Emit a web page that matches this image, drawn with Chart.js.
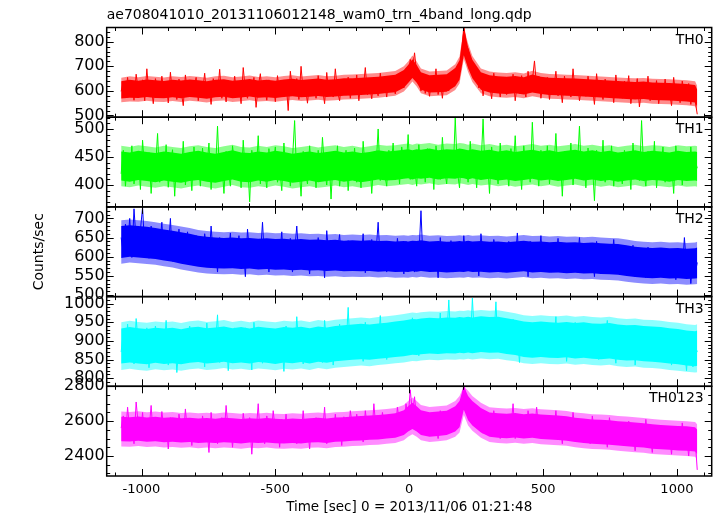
<!DOCTYPE html>
<html><head><meta charset="utf-8">
<script src="https://cdn.jsdelivr.net/npm/chart.js@4/dist/chart.umd.min.js"></script>
<style>html,body{margin:0;padding:0;background:#fff;}#wrap{width:717px;height:516px;}</style>
</head><body><div id="wrap"><canvas id="c" width="717" height="516"></canvas></div>
<script>
const chartTitle = 'ae708041010_20131106012148_wam0_trn_4band_long.qdp';
const xTitle = 'Time [sec] 0 = 2013/11/06 01:21:48';
const yTitle = 'Counts/sec';
const panelNames = ['TH0', 'TH1', 'TH2', 'TH3', 'TH0123'];
const xTickValues = [-1000, -500, 0, 500, 1000];
const yTicksTH0 = [500, 600, 700, 800];
const yTicksTH1 = [400, 450, 500];
const yTicksTH2 = [500, 550, 600, 650, 700];
const yTicksTH3 = [800, 850, 900, 950, 1000];
const yTicksTH0123 = [2400, 2600, 2800];

// light-curve bins (s)
const times = [
-1076,-1068,-1060,-1052,-1044,-1036,-1028,-1020,-1012,-1004,-996,-988,-980,-972,-964,-956,-948,-940,
-932,-924,-916,-908,-900,-892,-884,-876,-868,-860,-852,-844,-836,-828,-820,-812,-804,-796,
-788,-780,-772,-764,-756,-748,-740,-732,-724,-716,-708,-700,-692,-684,-676,-668,-660,-652,
-644,-636,-628,-620,-612,-604,-596,-588,-580,-572,-564,-556,-548,-540,-532,-524,-516,-508,
-500,-492,-484,-476,-468,-460,-452,-444,-436,-428,-420,-412,-404,-396,-388,-380,-372,-364,
-356,-348,-340,-332,-324,-316,-308,-300,-292,-284,-276,-268,-260,-252,-244,-236,-228,-220,
-212,-204,-196,-188,-180,-172,-164,-156,-148,-140,-132,-124,-116,-108,-100,-92,-84,-76,
-68,-60,-52,-44,-36,-28,-20,-12,-4,4,12,20,28,36,44,52,60,68,
76,84,92,100,108,116,124,132,140,148,156,164,172,180,188,196,204,212,
220,228,236,244,252,260,268,276,284,292,300,308,316,324,332,340,348,356,
364,372,380,388,396,404,412,420,428,436,444,452,460,468,476,484,492,500,
508,516,524,532,540,548,556,564,572,580,588,596,604,612,620,628,636,644,
652,660,668,676,684,692,700,708,716,724,732,740,748,756,764,772,780,788,
796,804,812,820,828,836,844,852,860,868,876,884,892,900,908,916,924,932,
940,948,956,964,972,980,988,996,1004,1012,1020,1028,1036,1044,1052,1060,1068,1076
];

const th0 = [
598,640,575,655,590,630,562,668,601,579,645,560,690,585,625,548,650,610,
572,660,595,633,551,676,588,620,565,648,602,540,665,590,637,578,612,655,
560,630,598,672,575,615,545,650,603,582,688,570,628,555,642,596,575,660,
585,622,548,695,600,570,640,592,655,533,618,670,580,610,562,645,598,630,
556,662,590,625,575,640,520,680,605,585,650,565,700,592,620,550,636,600,
640,570,662,595,612,548,675,588,630,575,690,600,560,645,618,583,656,570,
628,590,665,560,640,602,695,585,625,568,650,610,580,672,600,638,575,660,
605,650,588,668,620,645,612,690,665,728,690,755,668,640,600,655,590,632,
578,650,605,690,585,640,570,660,615,600,672,630,690,655,712,735,870,790,
770,720,700,655,690,612,660,580,645,600,630,568,672,598,640,575,655,610,
585,648,600,668,560,635,590,662,612,575,680,605,640,722,615,660,570,630,
595,655,565,640,608,680,580,625,552,660,600,628,575,690,590,645,560,615,
640,578,660,595,620,545,670,588,612,565,648,600,580,635,552,665,590,618,
570,640,585,662,548,615,590,650,535,605,628,575,660,560,620,585,642,548,
615,570,648,582,600,540,655,575,620,552,640,590,565,630,545,612,560,505
];

const th1 = [
420,462,398,447,415,470,402,438,455,392,480,425,410,458,385,445,428,492,
405,450,418,472,396,440,463,380,455,425,412,478,400,437,452,390,468,420,
445,398,466,415,430,475,392,450,420,505,410,442,385,460,428,398,470,436,
412,458,395,480,420,446,370,462,430,410,488,402,450,425,395,465,418,440,
468,405,432,390,475,420,452,398,445,515,412,438,380,460,425,402,470,418,
440,395,462,410,485,428,400,455,375,448,420,470,398,436,412,462,390,450,
420,466,405,440,395,478,425,412,458,385,445,430,500,408,450,420,398,462,
430,475,412,448,402,468,438,420,490,410,455,430,398,472,425,448,405,465,
418,455,392,470,435,410,485,428,402,458,440,415,520,425,395,462,432,448,
405,478,420,445,395,460,430,518,412,450,385,468,426,440,402,475,418,452,
436,398,465,420,488,410,445,392,470,428,455,405,512,422,440,398,462,430,
415,470,402,448,425,492,408,455,380,460,432,418,475,400,445,428,505,412,
450,395,466,420,440,372,462,430,412,480,405,445,425,470,398,455,418,438,
402,462,428,450,392,475,418,440,408,515,425,398,460,432,410,478,395,445,
430,468,405,452,418,440,385,470,422,458,400,445,432,412,468,420,445,430
];

const th2 = [
650,610,685,628,700,598,725,640,612,670,728,620,655,596,680,632,605,662,
628,690,600,650,615,700,588,645,625,672,595,638,610,665,580,640,618,655,
598,645,575,660,612,590,680,600,630,560,650,615,585,640,605,662,575,625,
600,655,582,628,548,672,605,590,640,572,618,598,690,585,625,560,645,610,
585,635,600,665,570,622,590,648,560,612,680,592,630,575,640,605,555,628,
610,575,650,592,620,545,668,600,585,635,570,612,658,580,625,595,642,565,
605,640,578,622,595,660,558,615,590,645,572,610,690,585,628,600,560,638,
592,625,570,648,600,612,555,640,605,585,635,560,618,598,720,580,625,602,
570,632,595,612,545,650,588,620,600,575,642,560,615,598,628,580,655,590,
610,568,638,595,622,550,660,600,582,630,595,565,645,605,588,625,560,612,
598,640,572,615,590,662,565,610,585,628,548,640,600,580,622,595,655,575,
605,580,630,560,618,595,648,575,612,590,560,635,600,572,625,588,650,578,
602,565,632,590,615,548,640,595,578,625,600,560,620,585,645,570,608,592,
575,615,560,600,588,630,548,595,570,610,580,545,625,575,598,560,612,582,
565,605,580,548,620,572,595,540,610,585,560,650,575,598,530,590,555,585
];

const th3 = [
870,925,855,945,880,905,838,960,892,850,915,870,935,828,900,868,940,885,
850,912,875,955,835,895,870,928,815,890,925,860,905,845,940,878,900,852,
920,865,895,830,948,880,912,858,890,970,842,905,875,925,820,898,862,935,
878,915,848,890,935,860,905,822,950,885,868,915,840,898,930,855,888,910,
845,925,872,900,818,940,880,862,915,850,965,878,892,838,920,870,905,848,
885,932,860,910,842,955,890,868,925,835,900,878,945,858,912,880,990,865,
900,855,935,882,915,845,950,890,870,925,860,905,880,968,872,918,850,900,
935,870,912,888,950,865,920,895,940,878,962,900,915,860,945,890,925,872,
918,950,880,935,898,975,872,925,905,1010,888,930,868,945,912,885,955,900,
930,878,1015,905,945,870,925,890,960,915,880,940,898,1005,875,928,905,952,
885,935,900,958,870,915,842,940,895,910,868,928,885,905,950,875,918,860,
905,940,872,920,890,965,862,910,885,932,845,915,898,870,950,880,912,865,
925,880,948,862,905,890,938,850,915,878,902,955,868,920,885,840,910,895,
870,925,852,900,880,940,835,895,915,860,905,872,930,848,890,868,918,855,
895,850,910,870,925,835,885,900,842,915,865,880,820,905,858,830,890,870
];

const th0123 = [
2560,2630,2505,2680,2540,2600,2470,2710,2575,2520,2650,2490,2615,2545,2690,2500,2580,2620,
2510,2655,2550,2600,2440,2620,2530,2580,2480,2640,2555,2500,2670,2530,2595,2460,2610,2545,
2590,2490,2630,2545,2580,2420,2650,2520,2600,2470,2560,2620,2500,2690,2540,2585,2450,2610,
2530,2600,2480,2645,2555,2510,2620,2410,2580,2530,2700,2500,2595,2470,2630,2545,2510,2660,
2540,2585,2450,2610,2520,2640,2490,2565,2530,2610,2470,2590,2520,2660,2500,2575,2440,2600,
2550,2620,2490,2580,2530,2680,2470,2600,2545,2505,2640,2520,2590,2460,2625,2550,2510,2660,
2570,2520,2640,2545,2600,2480,2660,2560,2590,2500,2700,2550,2615,2530,2650,2575,2520,2630,
2560,2640,2530,2680,2590,2610,2550,2700,2620,2780,2640,2740,2600,2650,2560,2620,2540,2610,
2520,2640,2565,2600,2500,2660,2545,2610,2580,2540,2650,2600,2680,2620,2700,2720,2810,2740,
2710,2680,2640,2600,2690,2560,2620,2530,2650,2580,2600,2510,2660,2555,2610,2500,2640,2580,
2545,2610,2560,2700,2500,2590,2540,2640,2580,2530,2660,2570,2600,2520,2680,2550,2590,2510,
2570,2620,2505,2600,2540,2660,2520,2580,2470,2610,2550,2590,2510,2650,2540,2600,2480,2570,
2610,2520,2580,2470,2630,2540,2575,2490,2600,2515,2560,2450,2620,2530,2545,2480,2590,2520,
2500,2570,2460,2600,2520,2540,2430,2580,2500,2550,2470,2610,2490,2530,2420,2560,2510,2475,
2540,2460,2570,2500,2520,2410,2560,2480,2530,2440,2590,2490,2510,2400,2550,2470,2500,2320
];

// envelope of each band, sampled at coreTimes:
// "core" = where the 1 s light curve fills the plot solidly, "halo" = the lighter fringe around it
const coreTimes = [
-1076,-1044,-1012,-980,-948,-916,-884,-852,-820,-788,-756,-724,-692,-660,-628,-596,-564,-532,
-500,-468,-436,-404,-372,-340,-308,-276,-244,-212,-180,-148,-116,-84,-52,-20,
-4,12,28,44,76,108,140,172,188,204,220,236,
268,300,332,364,396,428,460,492,524,556,588,620,652,684,716,748,780,812,844,876,908,940,972,1004,1036,1068,1076
];
const th0CoreLo = [569,572,571,575,571,570,574,570,575,572,568,574,576,570,573,577,572,574,
571,575,578,574,576,579,575,577,580,581,583,585,587,591,595,613,
632,653,633,605,593,595,597,619,645,745,692,651,
605,593,589,587,590,585,593,587,583,582,580,579,577,575,573,571,569,567,565,567,563,562,561,559,557,553,535];
const th0CoreHi = [639,645,641,646,643,640,645,642,646,643,639,645,647,641,644,648,642,645,
641,646,649,644,647,650,645,647,651,652,654,656,658,662,666,685,
705,729,705,676,664,666,668,693,725,858,778,727,
676,664,660,658,661,656,667,658,654,653,651,650,648,646,644,642,640,638,636,638,634,633,632,630,628,624,605];
const th0HaloLo = [554,557,556,560,556,555,559,555,560,557,553,559,561,555,558,562,557,559,
556,560,563,559,561,564,560,562,565,566,568,570,572,576,580,598,
617,638,618,590,578,580,582,604,630,730,677,636,
590,578,574,572,575,570,578,572,568,567,565,564,562,560,558,556,554,552,550,552,548,547,546,544,542,538,520];
const th0HaloHi = [654,660,656,661,658,655,660,657,661,658,654,660,662,656,659,663,657,660,
656,661,664,659,662,665,660,662,666,667,669,671,673,677,681,700,
720,744,720,691,679,681,683,708,740,858,793,742,
691,679,675,673,676,671,682,673,669,668,666,665,663,661,659,657,655,653,651,653,649,648,647,645,643,639,620];

const th1CoreLo = [408,406,409,407,405,408,406,404,407,409,406,404,407,410,406,405,408,406,
409,407,404,406,408,405,407,409,406,408,405,407,410,408,409,411,
412,410,412,411,413,410,412,411,413,412,410,412,
409,411,408,410,407,409,411,408,410,407,409,411,408,410,407,409,406,408,410,407,409,408,406,409,407,408,407];
const th1CoreHi = [460,458,461,459,457,460,458,456,459,461,458,456,459,462,458,457,460,458,
461,459,456,458,460,457,459,461,458,460,457,459,462,460,461,463,
464,462,464,463,465,462,464,463,465,464,462,464,
461,463,460,462,459,461,463,460,462,459,461,463,460,462,459,461,458,460,462,459,461,460,458,461,459,460,459];
const th1HaloLo = [398,396,399,397,395,398,396,394,397,399,396,394,397,400,396,395,398,396,
399,397,394,396,398,395,397,399,396,398,395,397,400,398,399,401,
402,400,402,401,403,400,402,401,403,402,400,402,
399,401,398,400,397,399,401,398,400,397,399,401,398,400,397,399,396,398,400,397,399,398,396,399,397,398,397];
const th1HaloHi = [470,468,471,469,467,470,468,466,469,471,468,466,469,472,468,467,470,468,
471,469,466,468,470,467,469,471,468,470,467,469,472,470,471,473,
474,472,474,473,475,472,474,473,475,474,472,474,
471,473,470,472,469,471,473,470,472,469,471,473,470,472,469,471,468,470,472,469,471,470,468,471,469,470,469];

const th2CoreLo = [597,600,598,596,594,590,587,582,578,574,571,570,569,570,568,569,567,568,
566,567,565,566,564,565,563,564,562,563,562,563,561,562,560,561,
560,562,561,563,560,561,559,560,561,560,562,560,
561,559,560,558,560,562,559,560,558,559,557,558,556,557,555,554,553,550,547,545,544,545,543,544,542,543,544];
const th2CoreHi = [680,682,680,678,675,671,668,664,660,655,652,650,649,650,648,649,647,648,
646,647,645,646,644,645,643,644,642,643,642,643,641,642,640,641,
640,642,641,643,640,641,639,640,641,640,642,640,
641,639,640,638,640,642,639,640,638,639,637,638,636,637,635,634,633,630,626,624,623,624,622,623,621,622,624];
const th2HaloLo = [582,585,583,581,579,575,572,567,563,559,556,555,554,555,553,554,552,553,
551,552,550,551,549,550,548,549,547,548,547,548,546,547,545,546,
545,547,546,548,545,546,544,545,546,545,547,545,
546,544,545,543,545,547,544,545,543,544,542,543,541,542,540,539,538,535,532,530,529,530,528,529,527,528,529];
const th2HaloHi = [695,697,695,693,690,686,683,679,675,670,667,665,664,665,663,664,662,663,
661,662,660,661,659,660,658,659,657,658,657,658,656,657,655,656,
655,657,656,658,655,656,654,655,656,655,657,655,
656,654,655,653,655,657,654,655,653,654,652,653,651,652,650,649,648,645,641,639,638,639,637,638,636,637,639];

const th3CoreLo = [839,842,839,837,841,838,840,837,841,843,839,841,844,840,842,839,843,841,
838,842,840,843,839,844,841,845,847,849,851,849,852,854,857,859,
861,863,862,864,866,865,867,866,868,867,869,867,
870,868,869,865,862,857,855,857,855,854,856,853,855,852,851,853,849,847,848,845,844,842,839,837,834,832,833];
const th3CoreHi = [933,937,934,932,935,933,935,931,936,938,934,936,939,934,937,933,938,935,
933,937,935,938,934,939,936,940,942,944,946,944,947,949,952,955,
957,959,958,960,962,961,963,962,964,963,965,963,
966,964,965,961,957,952,950,952,950,949,951,948,950,947,946,948,944,942,943,940,939,937,934,932,928,926,928];
const th3HaloLo = [822,825,822,820,824,821,823,820,824,826,822,824,827,823,825,822,826,824,
821,825,823,826,822,827,824,828,830,832,834,832,835,837,840,842,
844,846,845,847,849,848,850,849,851,850,852,850,
853,851,852,848,845,840,838,840,838,837,839,836,838,835,834,836,832,830,831,828,827,825,822,820,817,815,816];
const th3HaloHi = [950,954,951,949,952,950,952,948,953,955,951,953,956,951,954,950,955,952,
950,954,952,955,951,956,953,957,959,961,963,961,964,966,969,972,
974,976,975,977,979,978,980,979,981,980,982,980,
983,981,982,978,974,969,967,969,967,966,968,965,967,964,963,965,961,959,960,957,956,954,951,949,945,943,945];

const th0123CoreLo = [2485,2483,2487,2481,2485,2479,2482,2477,2480,2475,2478,2474,2479,2476,2472,2477,2474,2478,
2473,2471,2475,2472,2477,2479,2475,2481,2483,2487,2489,2493,2495,2500,2505,2520,
2540,2555,2540,2520,2510,2515,2520,2540,2565,2665,2605,2575,
2535,2510,2505,2502,2506,2500,2504,2498,2495,2492,2488,2480,2475,2470,2468,2465,2460,2456,2452,2448,2442,2438,2435,2432,2430,2425,2410];
const th0123CoreHi = [2625,2623,2627,2621,2625,2619,2622,2617,2620,2615,2618,2614,2619,2616,2612,2617,2614,2618,
2613,2611,2615,2612,2617,2619,2615,2621,2623,2627,2629,2633,2635,2640,2645,2663,
2685,2705,2685,2663,2651,2655,2660,2685,2715,2800,2745,2715,
2675,2650,2645,2642,2646,2640,2644,2638,2635,2632,2628,2620,2615,2610,2608,2605,2600,2596,2592,2588,2582,2578,2575,2572,2570,2565,2550];
const th0123HaloLo = [2455,2453,2457,2451,2455,2449,2452,2447,2450,2445,2448,2444,2449,2446,2442,2447,2444,2448,
2443,2441,2445,2442,2447,2449,2445,2451,2453,2457,2459,2463,2465,2470,2475,2490,
2510,2525,2510,2490,2480,2485,2490,2510,2535,2635,2575,2545,
2505,2480,2475,2472,2476,2470,2474,2468,2465,2462,2458,2450,2445,2440,2438,2435,2430,2426,2422,2418,2412,2408,2405,2402,2400,2395,2380];
const th0123HaloHi = [2655,2653,2657,2651,2655,2649,2652,2647,2650,2645,2648,2644,2649,2646,2642,2647,2644,2648,
2643,2641,2645,2642,2647,2649,2645,2651,2653,2657,2659,2663,2665,2670,2675,2693,
2715,2735,2715,2693,2681,2685,2690,2715,2745,2800,2775,2745,
2705,2680,2675,2672,2676,2670,2674,2668,2665,2662,2658,2650,2645,2640,2638,2635,2630,2626,2622,2618,2612,2608,2605,2602,2600,2595,2580];

const panels = [
  {name: panelNames[0], data: th0, lo: th0CoreLo, hi: th0CoreHi, hlo: th0HaloLo, hhi: th0HaloHi, color: '#ff0000', halo: 'rgba(255,0,0,0.45)', min: 493, max: 858, ticks: yTicksTH0, major: 100, minor: 20},
  {name: panelNames[1], data: th1, lo: th1CoreLo, hi: th1CoreHi, hlo: th1HaloLo, hhi: th1HaloHi, color: '#00ff00', halo: 'rgba(0,255,0,0.45)', min: 361, max: 521, ticks: yTicksTH1, major: 50, minor: 10},
  {name: panelNames[2], data: th2, lo: th2CoreLo, hi: th2CoreHi, hlo: th2HaloLo, hhi: th2HaloHi, color: '#0000ff', halo: 'rgba(0,0,255,0.45)', min: 496, max: 730, ticks: yTicksTH2, major: 50, minor: 10},
  {name: panelNames[3], data: th3, lo: th3CoreLo, hi: th3CoreHi, hlo: th3HaloLo, hhi: th3HaloHi, color: '#00ffff', halo: 'rgba(0,255,255,0.45)', min: 778, max: 1019, ticks: yTicksTH3, major: 50, minor: 10},
  {name: panelNames[4], data: th0123, lo: th0123CoreLo, hi: th0123CoreHi, hlo: th0123HaloLo, hhi: th0123HaloHi, color: '#ff00ff', halo: 'rgba(255,0,255,0.45)', min: 2285, max: 2800, ticks: yTicksTH0123, major: 200, minor: 50}
];

const FONT = 'DejaVu Sans';
const AXIS_W = 106.7;

const scales = {
  x: {
    type: 'linear', position: 'bottom', min: -1130, max: 1130,
    grid: {display: false, drawTicks: false}, border: {display: false},
    ticks: {font: {family: FONT, size: 13}, color: '#000', padding: 6, maxRotation: 0, autoSkip: false,
      callback: v => String(v)},
    afterBuildTicks: s => { s.ticks = xTickValues.map(v => ({value: v})); },
    afterFit: s => { s.height = 40; },
    title: {display: true, text: xTitle, font: {family: FONT, size: 13.5}, color: '#000', padding: {top: 0, bottom: 0.5}}
  }
};
for (let i = panels.length - 1; i >= 0; i--) {
  const p = panels[i];
  scales['y' + i] = {
    type: 'linear', position: 'left', stack: 'panels', stackWeight: 1,
    min: p.min, max: p.max,
    grid: {display: false, drawTicks: false}, border: {display: false},
    ticks: {font: {family: FONT, size: 16}, color: '#000', padding: 2, autoSkip: false,
      callback: v => String(v)},
    afterBuildTicks: s => { s.ticks = p.ticks.map(v => ({value: v})); },
    afterFit: s => { s.width = AXIS_W; },
    title: i === 2
      ? {display: true, text: yTitle, font: {family: FONT, size: 14}, color: '#000', padding: {top: 31, bottom: 0}}
      : {display: false}
  };
}

const NONE = 'rgba(0,0,0,0)';
const datasets = [];
panels.forEach((p, i) => {
  const env = (arr) => coreTimes.map((t, k) => ({x: t, y: arr[k]}));
  datasets.push({label: p.name, data: times.map((t, k) => ({x: t, y: p.data[k]})),
    yAxisID: 'y' + i, order: 0, borderColor: p.color, borderWidth: 1, pointRadius: 0, tension: 0, fill: false});
  datasets.push({label: p.name + ' core low', data: env(p.lo),
    yAxisID: 'y' + i, order: 1, borderColor: NONE, borderWidth: 1, pointRadius: 0, tension: 0, fill: false});
  datasets.push({label: p.name + ' core high', data: env(p.hi),
    yAxisID: 'y' + i, order: 1, borderColor: NONE, borderWidth: 1, pointRadius: 0, tension: 0, fill: '-1', backgroundColor: p.color});
  datasets.push({label: p.name + ' halo low', data: env(p.hlo),
    yAxisID: 'y' + i, order: 2, borderColor: NONE, borderWidth: 1, pointRadius: 0, tension: 0, fill: false});
  datasets.push({label: p.name + ' halo high', data: env(p.hhi),
    yAxisID: 'y' + i, order: 2, borderColor: NONE, borderWidth: 1, pointRadius: 0, tension: 0, fill: '-1', backgroundColor: p.halo});
});

const panelClip = {
  id: 'panelClip',
  beforeDatasetDraw(chart, args) {
    const ds = chart.data.datasets[args.index];
    const ys = chart.scales[ds.yAxisID];
    const ca = chart.chartArea;
    const ctx = chart.ctx;
    ctx.save();
    ctx.beginPath();
    ctx.rect(ca.left, ys.top, ca.right - ca.left, ys.bottom - ys.top);
    ctx.clip();
  },
  afterDatasetDraw(chart) { chart.ctx.restore(); }
};

const qdpFrame = {
  id: 'qdpFrame',
  afterDraw(chart) {
    const ctx = chart.ctx;
    const ca = chart.chartArea;
    const xs = chart.scales.x;
    ctx.save();
    ctx.strokeStyle = '#000';
    panels.forEach((p, i) => {
      const ys = chart.scales['y' + i];
      const top = ys.top, bot = ys.bottom;
      ctx.lineWidth = 1;
      ctx.beginPath();
      const start = Math.ceil(p.min / p.minor) * p.minor;
      for (let v = start; v <= p.max; v += p.minor) {
        const y = Math.round(ys.getPixelForValue(v)) + 0.5;
        const len = (v % p.major === 0) ? 7 : 3.5;
        ctx.moveTo(ca.left, y); ctx.lineTo(ca.left + len, y);
        ctx.moveTo(ca.right, y); ctx.lineTo(ca.right - len, y);
      }
      for (let v = -1100; v <= 1100; v += 100) {
        const x = Math.round(xs.getPixelForValue(v)) + 0.5;
        const len = (v % 500 === 0) ? 7 : 3.5;
        ctx.moveTo(x, top); ctx.lineTo(x, top + len);
        ctx.moveTo(x, bot); ctx.lineTo(x, bot - len);
      }
      ctx.stroke();
      ctx.lineWidth = 1.5;
      ctx.strokeRect(ca.left, top, ca.right - ca.left, bot - top);
      ctx.fillStyle = '#000';
      ctx.font = '14px "' + FONT + '"';
      ctx.textAlign = 'right';
      ctx.textBaseline = 'alphabetic';
      ctx.fillText(p.name, ca.right - 8, top + 16);
    });
    ctx.restore();
  }
};

new Chart(document.getElementById('c'), {
  type: 'line',
  data: {datasets},
  options: {
    responsive: false,
    animation: false,
    devicePixelRatio: 1,
    layout: {padding: {left: 0, right: 5.3, top: 0, bottom: 0}},
    scales,
    plugins: {
      legend: {display: false},
      tooltip: {enabled: false},
      filler: {propagate: false},
      title: {display: true, text: chartTitle, align: 'start', fullSize: false,
        font: {family: FONT, size: 14, weight: 'normal'}, color: '#000',
        padding: {top: 7, bottom: 3.7}}
    }
  },
  plugins: [panelClip, qdpFrame]
});
</script>
</body></html>
